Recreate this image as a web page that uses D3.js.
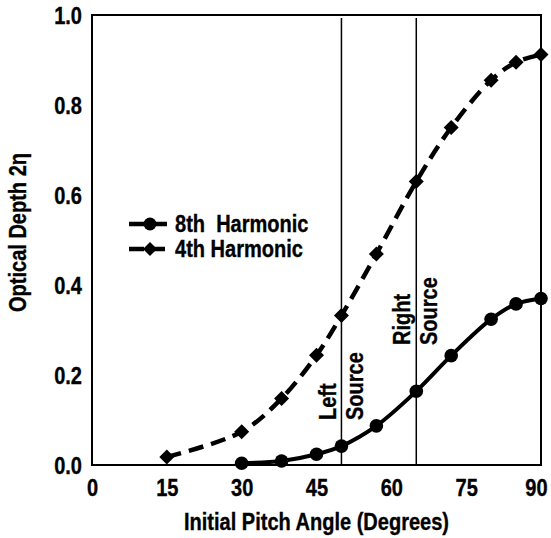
<!DOCTYPE html>
<html>
<head>
<meta charset="utf-8">
<script src="https://cdn.jsdelivr.net/npm/d3@7"></script>
<style>
  body { margin: 0; background: #fff; }
  text { font-family: "Liberation Sans", Arial, sans-serif; font-weight: bold; fill: #000;
         stroke: #000; stroke-width: 0.35px; }
</style>
</head>
<body>
<svg id="chart"></svg>
<script>
var width = 551;
var height = 538;

// data
var angles8 = [30, 38, 45, 50, 57, 65, 72, 80, 85, 90];
var depth8  = [0.004, 0.009, 0.024, 0.042, 0.087, 0.164, 0.243, 0.324, 0.358, 0.370];
var angles4 = [15, 30, 38, 45, 50, 57, 65, 72, 80, 85, 90];
var depth4  = [0.018, 0.074, 0.148, 0.244, 0.332, 0.469, 0.630, 0.750, 0.855, 0.895, 0.912];
var sourceAngles = [50, 65];
var xTicks = [0, 15, 30, 45, 60, 75, 90];
var yTicks = [0, 0.2, 0.4, 0.6, 0.8, 1.0];
var seriesNames = ["8th  Harmonic", "4th Harmonic"];

var fontSize = "23px";
var squeeze = 0.87;   // the original face is a condensed bold

var svg = d3.select("#chart")
    .attr("width", width)
    .attr("height", height);

var x = d3.scaleLinear().domain([0, 90]).range([92, 541]);
var y = d3.scaleLinear().domain([0, 1]).range([465, 15]);

// frame
svg.append("rect")
    .attr("x", x(0)).attr("y", y(1))
    .attr("width", x(90) - x(0)).attr("height", y(0) - y(1))
    .attr("fill", "none").attr("stroke", "#000").attr("stroke-width", 2);

// source lines
svg.selectAll("line.src")
    .data(sourceAngles)
  .enter().append("line")
    .attr("class", "src")
    .attr("x1", function(d) { return x(d); })
    .attr("x2", function(d) { return x(d); })
    .attr("y1", y(1) + 3)
    .attr("y2", y(0))
    .attr("stroke", "#000")
    .attr("stroke-width", 1.5);

// axis tick labels
var xAxis = d3.axisBottom(x).tickValues(xTicks).tickSize(0).tickPadding(15)
    .tickFormat(d3.format("d"));
var xg = svg.append("g").attr("transform", "translate(0," + y(0) + ")").call(xAxis);
xg.select(".domain").remove();
xg.selectAll("text").style("font-size", fontSize).style("font-family", null);
// last label sits against the right edge
xg.selectAll(".tick").filter(function(d) { return d === 90; })
    .select("text").attr("dx", -5);

var yAxis = d3.axisLeft(y).tickValues(yTicks).tickSize(0).tickPadding(10)
    .tickFormat(d3.format(".1f"));
var yg = svg.append("g").attr("transform", "translate(" + x(0) + ",1)").call(yAxis);
yg.select(".domain").remove();
yg.selectAll("text").style("font-size", fontSize).style("font-family", null);

// axis titles
svg.append("text")
    .attr("x", (x(0) + x(90)) / 2)
    .attr("y", 530)
    .attr("text-anchor", "middle")
    .style("font-size", fontSize)
    .text("Initial Pitch Angle (Degrees)");

svg.append("text")
    .attr("transform", "translate(18,312) rotate(-90)")
    .attr("dy", "0.35em")
    .style("font-size", fontSize)
    .text("Optical Depth 2η");

// source labels
var srcLabels = [
  { text: "Left", angle: 50, dx: -14, base: 420 },
  { text: "Source", angle: 50, dx: 13, base: 420 },
  { text: "Right", angle: 65, dx: -14, base: 345 },
  { text: "Source", angle: 65, dx: 13, base: 345 }
];
svg.selectAll("text.srclab")
    .data(srcLabels)
  .enter().append("text")
    .attr("class", "srclab")
    .attr("transform", function(d) {
      return "translate(" + (x(d.angle) + d.dx) + "," + d.base + ") rotate(-90)";
    })
    .attr("dy", "0.35em")
    .style("font-size", fontSize)
    .text(function(d) { return d.text; });

var line = d3.line()
    .x(function(d) { return x(d[0]); })
    .y(function(d) { return y(d[1]); })
    .curve(d3.curveCatmullRom);

var pts4 = angles4.map(function(a, i) { return [a, depth4[i]]; });
var pts8 = angles8.map(function(a, i) { return [a, depth8[i]]; });

function diamond(cx, cy, r) {
  return "M" + cx + "," + (cy - r) + "L" + (cx + r) + "," + cy +
         "L" + cx + "," + (cy + r) + "L" + (cx - r) + "," + cy + "Z";
}

// 4th harmonic, dashed
svg.append("path")
    .datum(pts4)
    .attr("d", line)
    .attr("fill", "none")
    .attr("stroke", "#000")
    .attr("stroke-width", 4.5)
    .attr("stroke-dasharray", "15,8");

svg.selectAll("path.dia")
    .data(pts4)
  .enter().append("path")
    .attr("class", "dia")
    .attr("d", function(d) { return diamond(x(d[0]), y(d[1]), 7.5); })
    .attr("fill", "#000");

// 8th harmonic, solid
svg.append("path")
    .datum(pts8)
    .attr("d", line)
    .attr("fill", "none")
    .attr("stroke", "#000")
    .attr("stroke-width", 4);

svg.selectAll("circle.dot")
    .data(pts8)
  .enter().append("circle")
    .attr("class", "dot")
    .attr("cx", function(d) { return x(d[0]); })
    .attr("cy", function(d) { return y(d[1]); })
    .attr("r", 6.8)
    .attr("fill", "#000");

// legend
var legend = svg.append("g");
var rows = [224, 249];
legend.append("line")
    .attr("x1", 129).attr("x2", 167).attr("y1", rows[0]).attr("y2", rows[0])
    .attr("stroke", "#000").attr("stroke-width", 4.5);
legend.append("circle")
    .attr("cx", 150).attr("cy", rows[0]).attr("r", 6.5).attr("fill", "#000");
legend.append("line")
    .attr("x1", 129).attr("x2", 167).attr("y1", rows[1]).attr("y2", rows[1])
    .attr("stroke", "#000").attr("stroke-width", 4.5)
    .attr("stroke-dasharray", "15,6");
legend.append("path")
    .attr("d", diamond(150, rows[1], 7)).attr("fill", "#000");
legend.selectAll("text")
    .data(seriesNames)
  .enter().append("text")
    .attr("x", 175)
    .attr("y", function(d, i) { return rows[i]; })
    .attr("dy", "0.36em")
    .style("font-size", fontSize)
    .style("white-space", "pre")
    .text(function(d) { return d; });

// condense every label horizontally
svg.selectAll("text").each(function() {
  var len = this.getComputedTextLength();
  d3.select(this)
    .attr("textLength", len * squeeze)
    .attr("lengthAdjust", "spacingAndGlyphs");
});
</script>
</body>
</html>
